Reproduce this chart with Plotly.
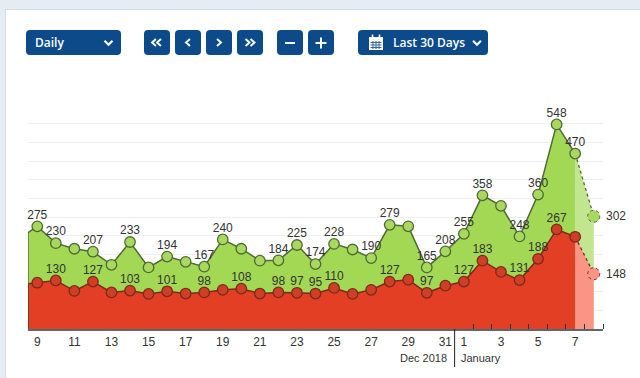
import plotly.graph_objects as go

# Dec 8 (clipped off the left edge) .. Jan 8
day_labels = [8, 9, 10, 11, 12, 13, 14, 15, 16, 17, 18, 19, 20, 21, 22, 23, 24, 25, 26, 27, 28, 29, 30, 31,
              1, 2, 3, 4, 5, 6, 7, 8]
green_values = [241, 275, 230, 215, 207, 172, 233, 165, 194, 180, 167, 240, 215, 183, 184, 225, 174, 228, 213, 190,
                279, 275, 165, 208, 255, 358, 330, 248, 360, 548, 470, 302]
red_values = [118, 124, 130, 102, 127, 98, 103, 94, 101, 95, 98, 105, 108, 95, 98, 97, 95, 110, 94, 105,
              127, 132, 97, 116, 127, 183, 153, 131, 188, 267, 247, 148]
green_shown = [9, 10, 12, 14, 16, 18, 19, 22, 23, 24, 25, 27, 28, 30, 31]
green_shown_jan = [1, 2, 4, 5, 6, 7]
red_shown = [10, 12, 14, 16, 18, 20, 22, 23, 24, 25, 28, 30]
red_shown_jan = [1, 2, 4, 5, 6]
tick_days = ["9", "11", "13", "15", "17", "19", "21", "23", "25", "27", "29", "31", "1", "3", "5", "7"]
month_left = "Dec 2018"
month_right = "January"

n_dec = 24  # entries in the December part of the lists
xs = list(range(-1, len(day_labels) - 1))
pos = {(("d" if i < n_dec else "j"), d): xs[i] for i, d in enumerate(day_labels)}


def labels(values, dec, jan):
    out = []
    for i, (d, v) in enumerate(zip(day_labels, values)):
        out.append(str(v) if d in (dec if i < n_dec else jan) else "")
    return out


green_text = labels(green_values, green_shown, green_shown_jan)
red_text = labels(red_values, red_shown, red_shown_jan)
tick_pos = [pos[("d" if int(t) > 8 else "j", int(t))] for t in tick_days]
jan_bounds = [x + 0.5 for x, d in zip(xs, day_labels) if x >= pos[("j", 1)]]

L, T, W, H = 28, 105, 575, 224
px = lambda v: (v - L) / W
py = lambda v: (T + H - v) / H

GREEN, RED = "#a2d853", "#e23f24"
GREEN_LT, RED_LT = "#c2e68f", "#fa9484"
GREEN_LN, RED_LN = "#4f6a36", "#7b2a1a"
GREEN_MK, RED_MK = "#a8d95e", "#cf3f27"
TXT = "#333333"
NAVY = "#0c4a8a"
LABEL_SIZE = 12

fig = go.Figure()


def series(vals, fill, fill_lt, ln, mk, mk_lt):
    fig.add_trace(go.Scatter(x=xs[-2:], y=vals[-2:], mode="lines", fill="tozeroy", fillcolor=fill_lt,
                             line=dict(color=ln, width=1.3, dash="dot"), hoverinfo="skip"))
    fig.add_trace(go.Scatter(x=xs[:-1], y=vals[:-1], mode="lines+markers", fill="tozeroy", fillcolor=fill,
                             line=dict(color=ln, width=1.5),
                             marker=dict(size=10.5, color=mk, line=dict(color=ln, width=1.3))))
    # forecast marker outline is dotted, drawn as a shape anchored to the value
    fig.add_shape(type="circle", xref="x", yref="y", xsizemode="pixel", ysizemode="pixel",
                  xanchor=xs[-1], yanchor=vals[-1], x0=-6, x1=6, y0=-6, y1=6,
                  fillcolor=mk_lt, line=dict(color=ln, width=1, dash="dot"), layer="above")
    # left edge of the area
    fig.add_shape(type="line", xref="x", yref="y", x0=-0.5, x1=-0.5, y0=0, y1=(vals[0] + vals[1]) / 2,
                  line=dict(color=ln, width=1.3), layer="above")


series(green_values, GREEN, GREEN_LT, GREEN_LN, GREEN_MK, "#a8d95e")
series(red_values, RED, RED_LT, RED_LN, RED_MK, RED_LT)

for vals, text in ((green_values, green_text), (red_values, red_text)):
    # invisible markers keep the text clear of the visible ones
    fig.add_trace(go.Scatter(x=xs, y=vals, mode="markers+text", text=text, textposition="top center",
                             marker=dict(size=6, opacity=0), cliponaxis=False,
                             textfont=dict(family="Liberation Sans", size=LABEL_SIZE, color=TXT), hoverinfo="skip"))
for vals in (green_values, red_values):
    fig.add_annotation(x=xs[-1], y=vals[-1], text=str(vals[-1]), showarrow=False, xanchor="left", xshift=10,
                       font=dict(family="Liberation Sans", size=LABEL_SIZE, color=TXT))

# --- page furniture
shapes = []


def rrect(x0, y0, x1, y1, r=4):
    X0, X1, Y0, Y1 = px(x0), px(x1), py(y0), py(y1)
    rx, ry = r / W, r / H
    d = (f"M {X0 + rx} {Y0} L {X1 - rx} {Y0} Q {X1} {Y0} {X1} {Y0 - ry} L {X1} {Y1 + ry} Q {X1} {Y1} {X1 - rx} {Y1} "
         f"L {X0 + rx} {Y1} Q {X0} {Y1} {X0} {Y1 + ry} L {X0} {Y0 - ry} Q {X0} {Y0} {X0 + rx} {Y0} Z")
    shapes.append(dict(type="path", xref="paper", yref="paper", path=d, fillcolor=NAVY, line=dict(width=0), layer="above"))


def stroke(points, width=2.0):
    d = "M " + " L ".join(f"{px(a)} {py(b)}" for a, b in points)
    shapes.append(dict(type="path", xref="paper", yref="paper", path=d, line=dict(color="white", width=width), layer="above"))


def box(x0, y0, x1, y1, fill, lw=0, lc="white", layer="below"):
    shapes.append(dict(type="rect", xref="paper", yref="paper", x0=px(x0), x1=px(x1), y0=py(y0), y1=py(y1),
                       fillcolor=fill, line=dict(width=lw, color=lc), layer=layer))


box(0, 0, 640, 9, "#e6ecf4")
box(0, 0, 6, 378, "#e6ecf4")
box(6, 9, 640, 10, "#d5dde6")
box(5, 9, 6, 378, "#d5dde6")

for a, b in ((26, 121), (144, 170), (175, 201), (206, 232), (237, 263), (277, 303), (308, 334), (358, 488)):
    rrect(a, 30, b, 55)


def chev_down(c, y=43):
    stroke([(c - 4, y - 2.2), (c, y + 1.8), (c + 4, y - 2.2)], 2.2)


def chev_h(c, d, y=42.5):
    stroke([(c - d * 2, y - 3.5), (c + d * 2, y), (c - d * 2, y + 3.5)], 1.9)


chev_down(108.5)
chev_down(477)
chev_h(154, -1); chev_h(159, -1)
chev_h(188, -1)
chev_h(219, 1)
chev_h(247.5, 1); chev_h(252.5, 1)
stroke([(285, 43), (295, 43)], 2.0)
stroke([(315.5, 43), (326.5, 43)], 2.0)
stroke([(321, 37.5), (321, 48.5)], 2.0)
# calendar icon
box(369, 37, 383, 50, "white", layer="above")
stroke([(372.5, 34.5), (372.5, 38)], 1.6)
stroke([(379.5, 34.5), (379.5, 38)], 1.6)
for gy in (42.5, 45, 47.5):
    shapes.append(dict(type="line", xref="paper", yref="paper", x0=px(370.5), x1=px(381.5), y0=py(gy), y1=py(gy),
                       line=dict(color=NAVY, width=0.8), layer="above"))
for gx in (373, 376, 379):
    shapes.append(dict(type="line", xref="paper", yref="paper", x0=px(gx), x1=px(gx), y0=py(41), y1=py(49),
                       line=dict(color=NAVY, width=0.8), layer="above"))

# month divider
shapes.append(dict(type="line", xref="x", yref="paper", x0=pos[("d", 31)] + 0.5, x1=pos[("d", 31)] + 0.5,
                   y0=py(329), y1=py(367), line=dict(color="#222222", width=1), layer="above"))

fig.update_layout(
    width=640, height=378, autosize=False, showlegend=False, paper_bgcolor="white", plot_bgcolor="white",
    margin=dict(l=L, t=T, r=640 - L - W, b=378 - T - H),
    shapes=list(fig.layout.shapes) + shapes,
    xaxis=dict(range=[-0.5, 30.5], tickmode="array", tickvals=tick_pos, ticktext=tick_days, ticks="", ticklen=0,
               showgrid=False, zeroline=False, showline=True, linecolor="#5b6670", linewidth=1.5,
               tickfont=dict(family="Liberation Sans", size=LABEL_SIZE, color=TXT), ticklabelstandoff=1,
               minor=dict(tickmode="array", tickvals=jan_bounds, ticks="inside", ticklen=5, tickwidth=1,
                          tickcolor="#333333", showgrid=False)),
    yaxis=dict(range=[0, 600], tickmode="linear", tick0=0, dtick=50, showticklabels=False, ticks="",
               showgrid=True, gridcolor="#efefef", gridwidth=1, zeroline=False, showline=False),
)


def page_text(x, y, s, anchor="left", size=12, color="white", family="Open Sans", weight=600):
    fig.add_annotation(xref="paper", yref="paper", x=px(x), y=py(y), text=s, showarrow=False, xanchor=anchor,
                       yanchor="middle", font=dict(family=family, size=size, color=color, weight=weight))


page_text(32.5, 42.5, "Daily")
page_text(391, 42.5, "Last 30 Days")
page_text(449, 358, month_left, "right", 11, TXT, "Liberation Sans", 400)
page_text(458.5, 358, month_right, "left", 11, TXT, "Liberation Sans", 400)

fig.write_html("out.html", config=dict(displayModeBar=False),
               post_script="document.body.style.margin='0';document.body.style.overflow='hidden';")
